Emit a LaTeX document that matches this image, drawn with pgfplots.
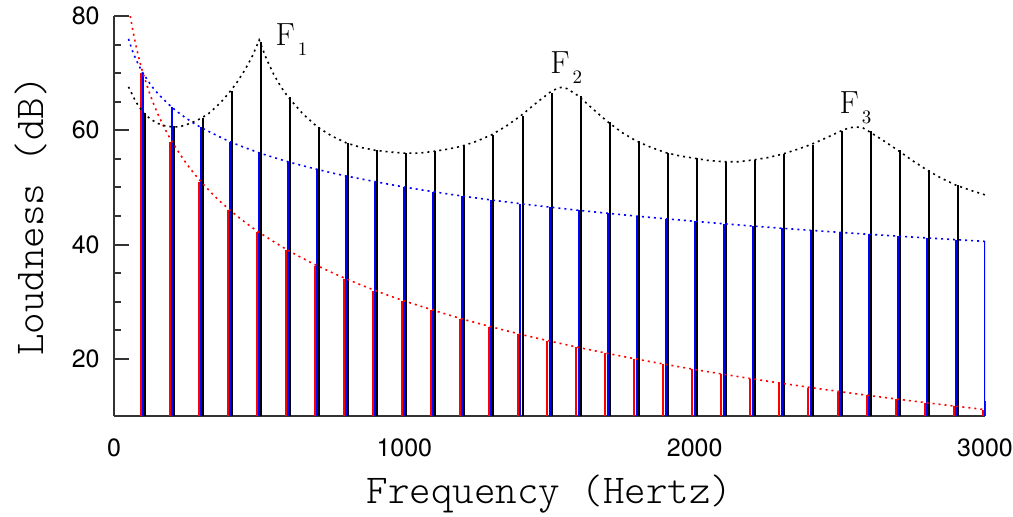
\documentclass[border=0pt]{standalone}
\usepackage{fontspec}
\usepackage{pgfplots}
\pgfplotsset{compat=1.18}
\newfontfamily\ticksfont{TeX Gyre Heros}
\newcommand\lblfont{\fontfamily{lmtt}\fontseries{l}\fontshape{n}\fontsize{20.5bp}{24bp}\selectfont}
\newcommand\formant[1]{F\hspace{1.5bp}\raisebox{-5bp}{\fontsize{9.5bp}{11bp}\selectfont #1}}
\begin{document}
\begin{tikzpicture}
\useasboundingbox (-57bp,-50.5bp) rectangle (449.5bp,208bp);
\begin{axis}[
  at={(0,0)}, anchor=south west,
  scale only axis, width=435.5bp, height=200bp,
  xmin=0, xmax=3000, ymin=10, ymax=80,
  axis x line=bottom, axis y line=left,
  axis line style={-, line width=1bp, black!80},
  xtick={0,1000,2000,3000},
  ytick={20,40,60,80},
  minor y tick num=3,
  tick align=inside,
  major tick length=7.5bp, minor tick length=3.5bp,
  every tick/.style={line width=1bp, black!80},
  /pgf/number format/assume math mode=true,
  /pgf/number format/1000 sep={},
  tick label style={font=\ticksfont\fontsize{12.5bp}{15bp}\selectfont},
  yticklabel style={anchor=east, inner sep=0pt, xshift=-7bp},
  xticklabel style={anchor=north, inner sep=0pt, yshift=-11bp},
]
% black (output) harmonics
\addplot[ycomb, black, line width=1bp, mark=none] coordinates {
(107,63.1) (207,60.75) (307,62.1) (407,66.8) (507,75.5) (607,65.8) (707,60.6) (807,57.8) (907,56.5) (1007,56.0)
(1107,56.3) (1207,57.25) (1307,59.2) (1407,62.5) (1507,66.6) (1607,66.0) (1707,61.5) (1807,58.1) (1907,56.1) (2007,55.1)
(2107,54.5) (2207,54.8) (2307,55.8) (2407,57.5) (2507,59.8) (2607,59.8) (2707,56.5) (2807,53.05) (2907,50.4)
};
% blue harmonics
\addplot[ycomb, blue, line width=1bp, mark=none] coordinates {
(100,70) (200,64) (300,60.49) (400,58) (500,56.07) (600,54.49) (700,53.16) (800,52) (900,50.98) (1000,50.07)
(1100,49.24) (1200,48.49) (1300,47.80) (1400,47.16) (1500,46.56) (1600,46) (1700,45.48) (1800,44.98) (1900,44.51) (2000,44.07)
(2100,43.65) (2200,43.24) (2300,42.86) (2400,42.49) (2500,42.14) (2600,41.80) (2700,41.47) (2800,41.16) (2900,40.85) (3000,40.56)
};
% red harmonics
\addplot[ycomb, red, line width=1bp, mark=none] coordinates {
(92,70) (192,58) (292,50.98) (392,46) (492,42.14) (592,38.98) (692,36.31) (792,34) (892,31.96) (992,30.14)
(1092,28.49) (1192,26.98) (1292,25.60) (1392,24.31) (1492,23.12) (1592,22) (1692,20.95) (1792,19.96) (1892,19.02) (1992,18.14)
(2092,17.29) (2192,16.49) (2292,15.72) (2392,14.98) (2492,14.27) (2592,13.59) (2692,12.94) (2792,12.31) (2892,11.70) (2992,11.12)
};
% envelopes
\addplot[red, line width=0.8bp, dash pattern=on 1bp off 2bp, smooth] coordinates {
(56,80) (60,78.84) (70,76.17) (80,73.86) (90,71.82) (100,70) (125,66.14) (150,62.98) (175,60.31) (200,58)
(250,54.14) (300,50.98) (350,48.31) (400,46) (450,43.96) (500,42.14) (600,38.98) (700,36.31) (800,34) (900,31.96)
(1000,30.14) (1200,26.98) (1400,24.31) (1600,22) (1800,19.96) (2000,18.14) (2200,16.49) (2400,14.98) (2600,13.59)
(2800,12.31) (3000,11.12)
};
\addplot[blue, line width=0.8bp, dash pattern=on 1bp off 2bp, smooth] coordinates {
(50,76) (60,74.42) (70,73.09) (80,71.93) (90,70.91) (100,70) (125,68.07) (150,66.49) (200,64) (250,62.07)
(300,60.49) (400,58) (500,56.07) (600,54.49) (700,53.16) (800,52) (1000,50.07) (1200,48.49) (1400,47.16)
(1600,46) (1800,44.98) (2000,44.07) (2200,43.24) (2400,42.49) (2600,41.80) (2800,41.16) (3000,40.56)
};
\addplot[black, line width=0.8bp, dash pattern=on 1bp off 2bp] coordinates {
(50,67.6) (75,65.0) (100,63.1) (125,62.0) (150,61.2) (175,60.8) (200,60.6) (225,60.6) (250,61.0) (275,61.5)
(300,62.1) (325,62.9) (350,64.0) (375,65.3) (400,66.8) (425,68.5) (450,70.5) (475,72.8) (500,75.8) (525,72.5)
(550,69.8) (575,67.6) (600,65.8) (650,62.9) (700,60.6) (750,59.0) (800,57.8) (850,57.0) (900,56.5) (950,56.2)
(1000,56.0) (1050,56.0) (1100,56.3) (1150,56.7) (1200,57.25) (1250,58.1) (1300,59.2) (1350,60.7) (1400,62.5)
(1450,64.6) (1500,66.6) (1525,67.3) (1540,67.5) (1560,67.3) (1600,66.0) (1650,63.7) (1700,61.5) (1750,59.6)
(1800,58.1) (1850,57.0) (1900,56.1) (1950,55.5) (2000,55.1) (2050,54.7) (2100,54.5) (2150,54.5) (2200,54.8)
(2250,55.2) (2300,55.8) (2350,56.6) (2400,57.5) (2450,58.6) (2500,59.8) (2530,60.4) (2555,60.6) (2580,60.4)
(2600,59.8) (2650,58.2) (2700,56.5) (2750,54.7) (2800,53.05) (2850,51.6) (2900,50.4) (2950,49.5) (3000,48.7)
};
\node[anchor=base west, inner sep=0pt, font=\fontsize{16bp}{19bp}\selectfont] at (axis cs:555,74.9) {\formant{1}};
\node[anchor=base west, inner sep=0pt, font=\fontsize{16bp}{19bp}\selectfont] at (axis cs:1502,69.9) {\formant{2}};
\node[anchor=base west, inner sep=0pt, font=\fontsize{16bp}{19bp}\selectfont] at (axis cs:2498,62.9) {\formant{3}};
\end{axis}
\node[anchor=base, inner sep=0pt, font=\lblfont] at (217.75bp,-43.6bp) {Frequency (Hertz)};
\node[anchor=base, rotate=90, inner sep=0pt, font=\lblfont] at (-35.5bp,100bp) {Loudness (dB)};
\end{tikzpicture}
\end{document}
